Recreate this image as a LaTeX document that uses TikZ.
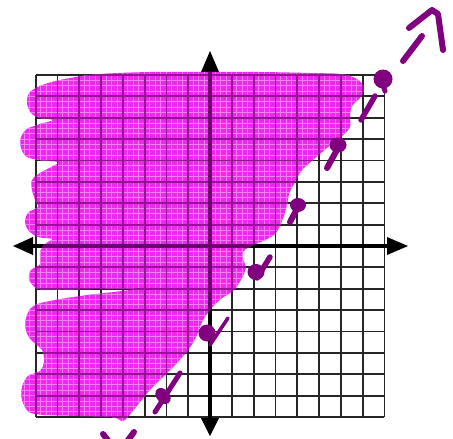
\documentclass[tikz,border=0pt]{standalone}
\definecolor{purp}{RGB}{128,0,128}
\definecolor{shadecol}{RGB}{238,40,238}
\definecolor{subl}{RGB}{246,125,246}
\definecolor{gridin}{RGB}{150,20,150}
\definecolor{axin}{RGB}{110,0,110}
\tikzset{
  gridline/.style={line width=1.8pt, black!85},
  axisline/.style={line width=4pt, black},
  pdash/.style={purp, line width=5.5pt, line cap=round},
  pblob/.style={fill=purp},
  shadearea/.style={fill=shadecol}
}
\begin{document}
\begin{tikzpicture}[x=1pt,y=-1pt]
\useasboundingbox (0,0) rectangle (453,439);
\fill[white] (0,0) rectangle (453,439);
% grid
\foreach \i in {0,...,16} {
  \draw[gridline] ({35.6+\i*21.8},75) -- ({35.6+\i*21.8},417);
  \draw[gridline] (35.6,{75+\i*21.375}) -- (384.4,{75+\i*21.375});
}
% axes
\draw[axisline] (25,246) -- (395,246);
\draw[axisline] (210,62) -- (210,425);
\fill (13,246) -- (33,237) -- (33,255) -- cycle;
\fill (408,246) -- (387,237) -- (387,255) -- cycle;
\fill (210,51) -- (201,72) -- (219,72) -- cycle;
\fill (210,436) -- (201,418) -- (219,418) -- cycle;
% shading
\fill[shadearea] plot[smooth cycle, tension=0.55] coordinates {(30,92) (45,84) (70,78) (100,74) (150,72) (200,72) (260,72) (310,73) (340,74) (357,79) (364,88) (360,98) (352,106) (350,116) (350,127) (342,136) (328,147) (314,159) (302,170) (295,182) (289,194) (287,205) (282,221) (275,234) (263,241) (251,246) (243,252) (243,260) (246,267) (242,278) (234,290) (221,299) (210,310) (202,322) (197,335) (189,349) (176,364) (162,378) (149,391) (140,402) (131,413) (123,421) (112,417) (80,416) (45,415) (29,412) (22,400) (22,387) (28,376) (40,371) (44,362) (42,350) (32,341) (26,331) (26,318) (32,307) (45,302) (80,296) (135,289) (90,289) (50,290) (36,288) (29,279) (31,270) (40,264) (40,252) (45,244) (52,239) (38,237) (28,230) (25,220) (29,212) (38,207) (35,200) (32,190) (32,180) (40,173) (55,165) (58,162) (40,160) (27,157) (21,148) (21,137) (27,129) (40,124) (53,120) (40,118) (31,113) (27,103)};
\begin{scope}
\clip plot[smooth cycle, tension=0.55] coordinates {(30,92) (45,84) (70,78) (100,74) (150,72) (200,72) (260,72) (310,73) (340,74) (357,79) (364,88) (360,98) (352,106) (350,116) (350,127) (342,136) (328,147) (314,159) (302,170) (295,182) (289,194) (287,205) (282,221) (275,234) (263,241) (251,246) (243,252) (243,260) (246,267) (242,278) (234,290) (221,299) (210,310) (202,322) (197,335) (189,349) (176,364) (162,378) (149,391) (140,402) (131,413) (123,421) (112,417) (80,416) (45,415) (29,412) (22,400) (22,387) (28,376) (40,371) (44,362) (42,350) (32,341) (26,331) (26,318) (32,307) (45,302) (80,296) (135,289) (90,289) (50,290) (36,288) (29,279) (31,270) (40,264) (40,252) (45,244) (52,239) (38,237) (28,230) (25,220) (29,212) (38,207) (35,200) (32,190) (32,180) (40,173) (55,165) (58,162) (40,160) (27,157) (21,148) (21,137) (27,129) (40,124) (53,120) (40,118) (31,113) (27,103)};
\foreach \k in {0,...,68} {
  \draw[subl, line width=0.9pt] ({8+\k*5.45},60) -- ({8+\k*5.45},430);
  \draw[subl, line width=0.9pt] (10,{64.3+\k*5.344}) -- (400,{64.3+\k*5.344});
}
\foreach \i in {0,...,16} {
  \draw[gridin, line width=1.8pt] ({35.6+\i*21.8},75) -- ({35.6+\i*21.8},417);
  \draw[gridin, line width=1.8pt] (35.6,{75+\i*21.375}) -- (384.4,{75+\i*21.375});
}
\draw[axin, line width=4pt] (25,246) -- (395,246);
\draw[axin, line width=4pt] (210,62) -- (210,425);
\end{scope}
% dashed boundary line y = 1.5x - 4
\coordinate (p8) at (383,79);
\coordinate (p0) at (207,333);
\fill[pblob] (p8) circle (9.5);
\draw[pdash, line width=5pt] (383,85) -- (385,91);
\draw[pdash] (375,96) -- (361,120);
\draw[pdash, line width=6pt] (422,36) -- (403,61);
\draw[pdash, line width=6pt, line join=round] (409,28) -- (432,10) -- (438,14) -- (443,50);
\fill[pblob] (338,145) ellipse (8.5 and 7.5);
\draw[pdash, line width=6pt] (338,148) -- (327,168);
\fill[pblob] (298,205) ellipse (8 and 7);
\draw[pdash, line width=6pt] (298,207) -- (290,222);
\fill[pblob] (256,272) ellipse (8.5 and 8);
\draw[pdash, line width=5.5pt] (270,257) -- (257,278);
\fill[pblob] (p0) circle (8.5);
\draw[pdash, line width=3.5pt] (210,345) -- (228,318);
\fill[pblob, rotate around={-50:(163,396)}] (163,396) ellipse (9 and 6.5);
\draw[pdash, line width=5pt] (180,373) -- (155,412);
\draw[pdash, line width=6pt] (103,434) -- (110,443);
\draw[pdash, line width=6pt] (134,432) -- (126,443);
\end{tikzpicture}
\end{document}
